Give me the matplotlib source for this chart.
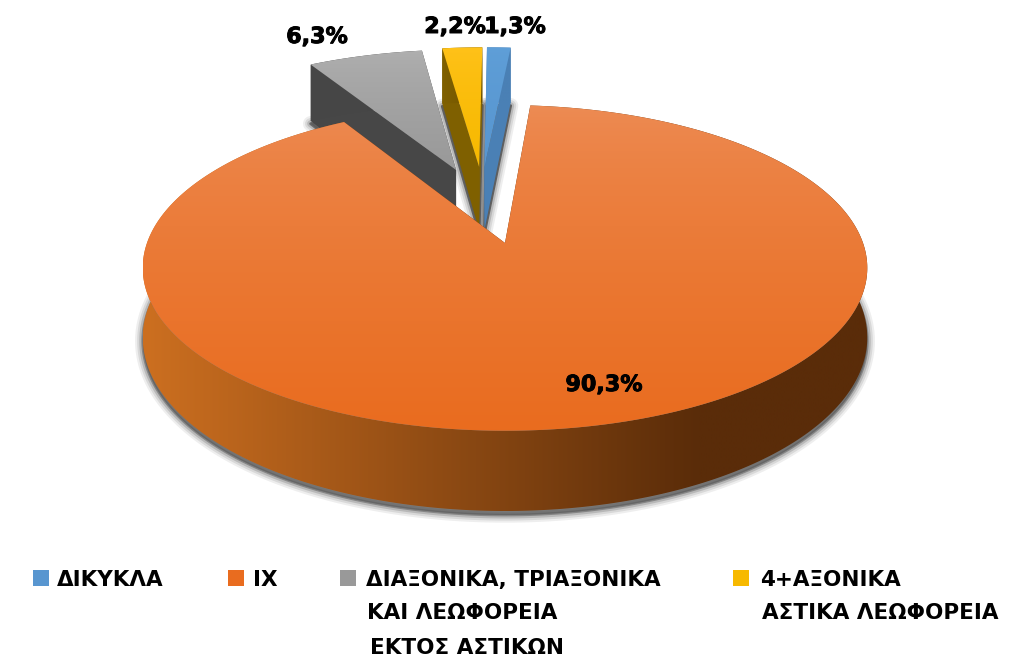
import numpy as np
import matplotlib
matplotlib.use("Agg")
import matplotlib.pyplot as plt
import matplotlib.patheffects as pe
from matplotlib.patches import Polygon, Rectangle
from matplotlib.colors import LinearSegmentedColormap

# data
categories = ["ΔΙΚΥΚΛΑ", "ΙΧ", "ΔΙΑΞΟΝΙΚΑ, ΤΡΙΑΞΟΝΙΚΑ", "4+ΑΞΟΝΙΚΑ"]
values = [1.3, 90.3, 6.3, 2.2]
value_labels = ["1,3%", "90,3%", "6,3%", "2,2%"]
extra_legend_lines = ["ΚΑΙ ΛΕΩΦΟΡΕΙΑ", "ΕΚΤΟΣ ΑΣΤΙΚΩΝ", "ΑΣΤΙΚΑ ΛΕΩΦΟΡΕΙΑ"]

# style / layout
top_cols = [("#5f9fd8", "#5896d0"), ("#ed8c55", "#e96c1f"), ("#b0b0b0", "#999999"), ("#ffc21a", "#f7b900")]
wall_cols = [("#4a80b5", "#4a80b5"), ("#cc6f20", "#5a2c09"), ("#474747", "#454545"), ("#7f6000", "#6f5200")]
offsets = [(-0.062, 0.516), (0, 0), (-0.147, 0.494), (-0.078, 0.516)]
label_xy = [(515, 27), (604, 385), (317, 37), (455, 27)]
shadow_alpha = [0.95, 0.55, 0.85, 0.95]
CX, CY, RX, RY, K, DEPTH = 505, 243, 358, 159, 0.153, 68


def project(u, v, z=0.0):
    w = 1 + K * v
    return np.column_stack([CX + RX * u / w, CY - RY * v / w + DEPTH * z / w])


def grad_fill(ax, poly, c0, c1, horizontal=False, span=None):
    xy = np.asarray(poly)
    x0, x1 = xy[:, 0].min(), xy[:, 0].max()
    y0, y1 = xy[:, 1].min(), xy[:, 1].max()
    cmap = LinearSegmentedColormap.from_list("g", [c0, c1])
    t = np.linspace(0, 1, 256)
    if horizontal:
        if span:
            t = np.clip((np.linspace(x0, x1, 256) - span[0]) / (span[1] - span[0]), 0, 1)
        img = t[None, :]
    else:
        img = t[:, None] ** 0.7
    im = ax.imshow(img, extent=(x0, x1, y1, y0), cmap=cmap, vmin=0, vmax=1,
                   aspect="auto", interpolation="bilinear", zorder=ax._z)
    patch = Polygon(xy, closed=True, transform=ax.transData, fc="none", ec="none")
    ax.add_patch(patch)
    im.set_clip_path(patch)
    ax._z += 0.01


fig = plt.figure(figsize=(10.24, 6.68), dpi=100)
ax = fig.add_axes([0, 0, 1, 1])
ax._z = 2
ax.set_xlim(0, 1024)
ax.set_ylim(668, 0)
ax.axis("off")

fracs = np.array(values) / sum(values) * 360
ends = np.cumsum(fracs)
starts = ends - fracs
geom = []
for a0, a1, (ou, ov) in zip(starts, ends, offsets):
    th = np.radians(np.linspace(a0, a1, max(int(a1 - a0) * 2, 12)))
    geom.append((th, ou + np.sin(th), ov + np.cos(th), ou, ov))

order = [2, 3, 0, 1]
# soft shadows under the slices
for i in order:
    th, u, v, ou, ov = geom[i]
    uu = np.r_[ou, u]
    vv = np.r_[ov, v]
    low = project(uu, vv, 1.05)
    for lw, al in [(11, 0.10), (8, 0.15), (5, 0.25), (2, shadow_alpha[i])]:
        ax.add_patch(Polygon(low, closed=True, fc="#5c5c5c", ec="#5c5c5c", lw=lw,
                             alpha=al, zorder=1.5, joinstyle="round"))

for i in order:
    th, u, v, ou, ov = geom[i]
    uu = np.r_[ou, u]
    vv = np.r_[ov, v]
    top = project(uu, vv)
    arc_t = project(u, v)
    arc_b = project(u, v, 1)
    apex_t = project(np.array([ou]), np.array([ov]))
    apex_b = project(np.array([ou]), np.array([ov]), 1)
    c0, c1 = wall_cols[i]
    # radial walls
    for e in (0, -1):
        poly = np.vstack([apex_t, arc_t[e], arc_b[e], apex_b])
        ax.add_patch(Polygon(poly, closed=True, fc=c0 if i != 1 else c1, ec="none", zorder=ax._z))
        ax._z += 0.01
    # outer wall
    poly = np.vstack([arc_t, arc_b[::-1]])
    grad_fill(ax, poly, c0, c1, horizontal=True, span=(143, 700) if i == 1 else None)
    # top face
    grad_fill(ax, top, top_cols[i][0], top_cols[i][1])

stroke = [pe.withStroke(linewidth=0.7, foreground="black")]
# value labels
for lab, (x, y) in zip(value_labels, label_xy):
    ax.text(x, y, lab, ha="center", va="center", fontsize=16, fontweight="bold",
            family="DejaVu Sans", color="black", zorder=20, path_effects=stroke)

# legend
sq_x = [33, 228, 340, 733]
txt_x = [57, 253, 366, 760]
for j, name in enumerate(categories):
    ax.add_patch(Rectangle((sq_x[j], 570), 16, 16, fc=top_cols[j][1], ec="none", zorder=20))
    ax.text(txt_x[j], 580, name, ha="left", va="center", fontsize=15.5, fontweight="bold",
            family="DejaVu Sans", color="black", zorder=20)
for line, x, y in zip(extra_legend_lines, [367, 370, 762], [613, 648, 613]):
    ax.text(x, y, line, ha="left", va="center", fontsize=15.5, fontweight="bold",
            family="DejaVu Sans", color="black", zorder=20)

fig.savefig("out.png", dpi=100, facecolor="white")
